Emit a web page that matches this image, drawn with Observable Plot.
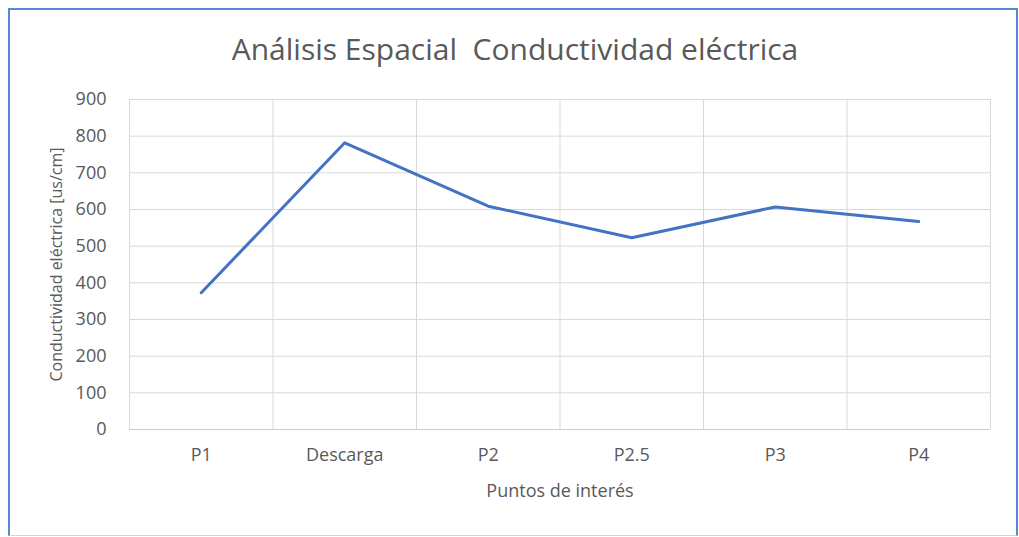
<!DOCTYPE html>
<html>
<head>
<meta charset="utf-8">
<script src="https://cdn.jsdelivr.net/npm/d3@7"></script>
<script src="https://cdn.jsdelivr.net/npm/@observablehq/plot@0.6"></script>
<style>
  html, body { margin: 0; padding: 0; background: #ffffff; }
  body { width: 1019px; height: 537px; position: relative; overflow: hidden; font-family: "Open Sans", sans-serif; }
  #frame { position: absolute; left: 8px; top: 8px; width: 1010px; height: 528px; box-sizing: border-box;
           border: 2px solid #5b86d6; border-bottom: 1px solid #d4d4d4; }
  #title { position: absolute; left: 0; top: 34px; width: 1030px; text-align: center; font-size: 30px; line-height: 30px;
           color: #595959; white-space: pre; font-family: "Open Sans", sans-serif; }
  #chart { position: absolute; left: 0; top: 0; }
</style>
</head>
<body>
<div id="frame"></div>
<div id="title"></div>
<div id="chart"></div>
<script>
const titleText = "Análisis Espacial  Conductividad eléctrica";
const categories = ["P1", "Descarga", "P2", "P2.5", "P3", "P4"];
const values = [373, 782, 609, 523, 607, 567];
const yTicks = [0, 100, 200, 300, 400, 500, 600, 700, 800, 900];
const xLabel = "Puntos de interés";
const yLabel = "Conductividad eléctrica [us/cm]";

document.getElementById("title").textContent = titleText;

const data = categories.map((c, i) => ({cat: c, idx: i + 0.5, value: values[i]}));
const bounds = d3.range(categories.length + 1);

const chart = Plot.plot({
  width: 1019,
  height: 537,
  marginLeft: 129,
  marginRight: 29,
  marginTop: 99,
  marginBottom: 108,
  style: {fontFamily: "Open Sans, sans-serif", fontSize: "18px", color: "#595959", background: "transparent"},
  x: {
    domain: [0, categories.length],
    ticks: data.map(d => d.idx),
    tickFormat: v => categories[Math.floor(v)],
    tickSize: 0,
    tickPadding: 19,
    label: null
  },
  y: {
    domain: [0, 900],
    ticks: yTicks,
    tickSize: 0,
    tickPadding: 23,
    label: null
  },
  marks: [
    Plot.ruleY(yTicks.filter(d => d > 0), {stroke: "#d9d9d9", strokeWidth: 1}),
    Plot.ruleX(bounds, {stroke: "#d9d9d9", strokeWidth: 1}),
    Plot.ruleY([0], {stroke: "#cccccc", strokeWidth: 1}),
    Plot.line(data, {x: "idx", y: "value", stroke: "#4472C4", strokeWidth: 3, strokeLinejoin: "round", strokeLinecap: "round"}),
    Plot.text([yLabel], {text: d => d, frameAnchor: "left", textAnchor: "middle", dx: -73, rotate: -90, fontSize: 16, fill: "#595959"}),
    Plot.text([xLabel], {text: d => d, frameAnchor: "bottom", dy: 67, fontSize: 18, fill: "#595959"})
  ]
});
document.getElementById("chart").appendChild(chart);
</script>
</body>
</html>
